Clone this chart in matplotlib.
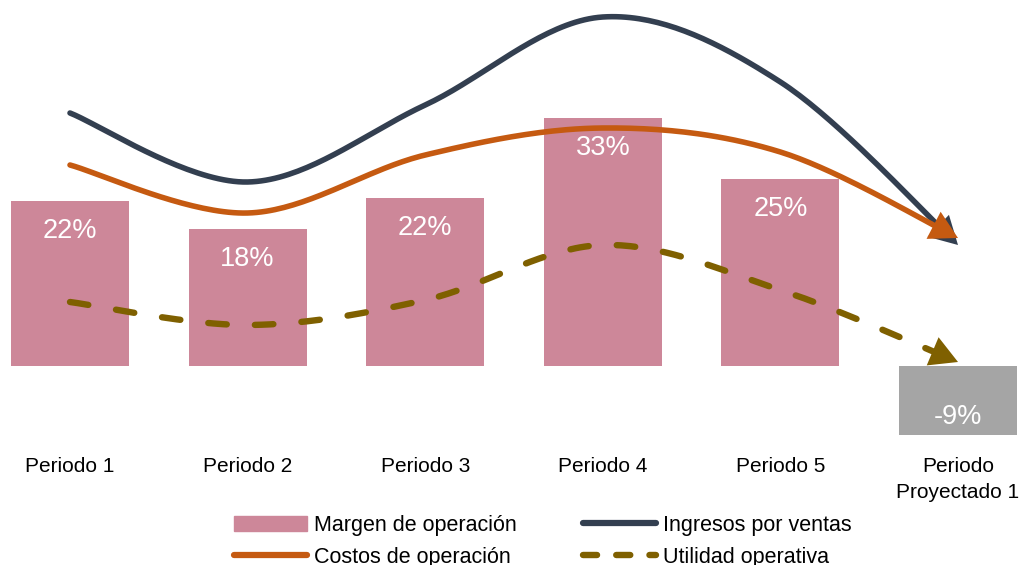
import numpy as np
import matplotlib
matplotlib.use('Agg')
import matplotlib.pyplot as plt
from matplotlib.patches import Patch
from matplotlib.lines import Line2D

plt.rcParams['font.family'] = ['Liberation Sans', 'DejaVu Sans']

periodos = ['Periodo 1', 'Periodo 2', 'Periodo 3', 'Periodo 4', 'Periodo 5',
            'Periodo\nProyectado 1']
# margen de operacion (%)
margen = [22.0, 18.3, 22.4, 33.1, 24.9, -9.2]
# series de lineas (unidades relativas)
ingresos = [253, 184, 261, 349, 284, 121]
costos = [201, 153, 211, 238, 214, 128]
utilidad = [64, 41, 66, 121, 76, 4]

PINK = '#CD8799'
GRAY = '#A5A5A5'
DARK = '#333F50'
ORANGE = '#C55A11'
OLIVE = '#7F6000'


def smooth(xs, ys, n=40):
    # curva suavizada tipo Catmull-Rom que pasa por los puntos
    pts = np.column_stack([xs, ys]).astype(float)
    p = np.vstack([pts[0], pts, pts[-1]])
    t = np.linspace(0, 1, n)[:, None]
    out = []
    for i in range(len(pts) - 1):
        p0, p1, p2, p3 = p[i], p[i + 1], p[i + 2], p[i + 3]
        seg = 0.5 * ((2 * p1) + (-p0 + p2) * t + (2 * p0 - 5 * p1 + 4 * p2 - p3) * t ** 2
                     + (-p0 + 3 * p1 - 3 * p2 + p3) * t ** 3)
        out.append(seg if i == 0 else seg[1:])
    return np.vstack(out)


W, H = 1021, 565
fig = plt.figure(figsize=(W / 100, H / 100), dpi=100)
bottom_px = 445
ax = fig.add_axes([0, (H - bottom_px) / H, 1, bottom_px / H])
x = np.arange(len(periodos))
step = 177.6
ax.set_xlim(-70 / step, (W - 70) / step)
ax.set_ylim(-(bottom_px - 366) / 7.5, 366 / 7.5)

colors = [PINK] * 5 + [GRAY]
ax.bar(x, margen, width=0.665, color=colors, zorder=1)
for xi, v in zip(x, margen):
    yl = v - 4.0 if v > 0 else v + 2.4
    ax.text(xi, yl, f'{round(v)}%', ha='center', va='center', color='white',
            fontsize=19.5)

ax.set_xticks(x)
ax.set_xticklabels(periodos, fontsize=15, linespacing=1.4)
ax.tick_params(axis='x', length=0, pad=9)
ax.set_yticks([])
for s in ax.spines.values():
    s.set_visible(False)
ax.patch.set_alpha(0)

ax2 = ax.twinx()
ax2.set_ylim(-(bottom_px - 366), 366)
ax2.set_yticks([])
for s in ax2.spines.values():
    s.set_visible(False)

series = [(ingresos, DARK, '-'), (costos, ORANGE, '-'), (utilidad, OLIVE, '--')]
for vals, col, ls in series:
    c = smooth(x, vals)
    cut = len(c) - 4
    line, = ax2.plot(c[:cut, 0], c[:cut, 1], color=col, lw=4.0 if ls == '-' else 4.6,
                     solid_capstyle='round', zorder=3)
    if ls == '--':
        line.set_dashes([2.9, 4.4])
        line.set_dash_capstyle('round')
    ax2.annotate('', xy=c[-1], xytext=c[cut - 3],
                 arrowprops=dict(arrowstyle='-|>,head_length=0.9,head_width=0.5',
                                 color=col, lw=0, mutation_scale=22,
                                 shrinkA=0, shrinkB=0), zorder=4)

handles = [Patch(color=PINK), Line2D([], [], color=ORANGE, lw=4.5, solid_capstyle='round'),
           Line2D([], [], color=DARK, lw=4.5, solid_capstyle='round'),
           Line2D([], [], color=OLIVE, lw=4.6, ls=(0, (2.2, 3.0)), dash_capstyle='round')]
labels = ['Margen de operación', 'Costos de operación', 'Ingresos por ventas',
          'Utilidad operativa']
fig.legend(handles, labels, ncol=2, frameon=False, loc='upper left',
           bbox_to_anchor=(234 / W, 1 - 515 / H), fontsize=15.5, borderpad=0,
           borderaxespad=0, handlelength=3.4, handletextpad=0.3,
           columnspacing=3.1, labelspacing=0.5)

fig.savefig('out.png', dpi=100)
